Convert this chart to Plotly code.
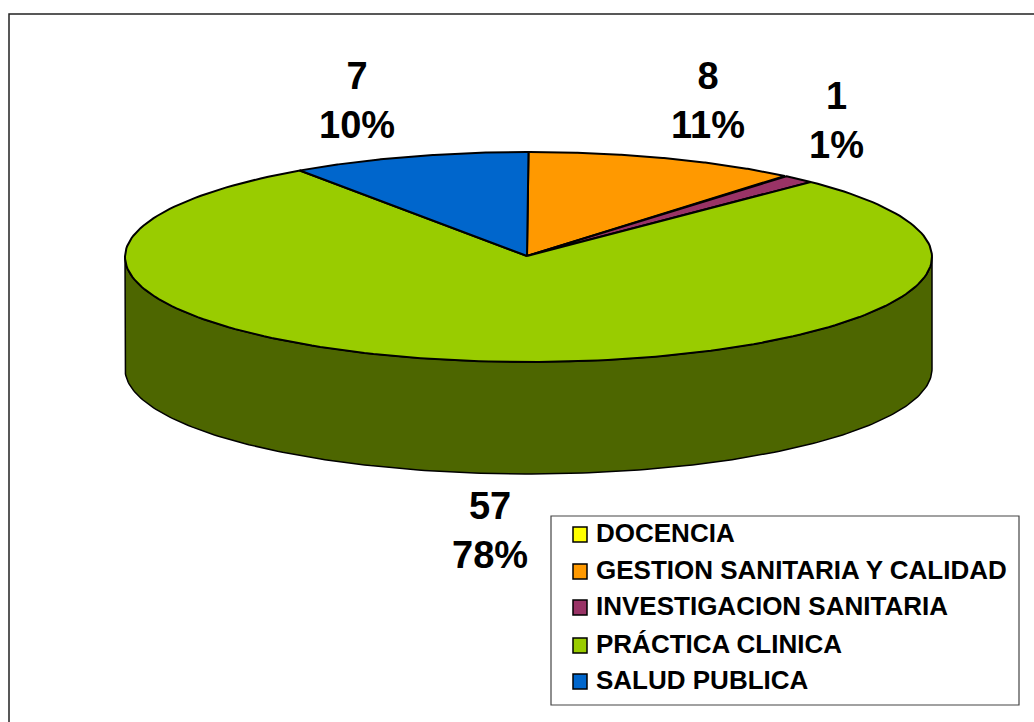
import numpy as np
import plotly.graph_objects as go

categories = ["DOCENCIA", "GESTION SANITARIA Y CALIDAD", "INVESTIGACION SANITARIA", "PRÁCTICA CLINICA", "SALUD PUBLICA"]
values = [0, 8, 1, 57, 7]
percent_labels = ["0%", "11%", "1%", "78%", "10%"]
top_colors = ["#FFFF00", "#FF9900", "#993366", "#99CC00", "#0066CC"]
side_colors = ["#808000", "#804D00", "#4D1A33", "#4D6600", "#003366"]

W, H = 1034, 722
CX, CY, RX, RY, DEPTH = 528.5, 257, 403.5, 105, 112
FONT = "Liberation Sans, Arial, sans-serif"

fig = go.Figure()


def ell(t):
    return CX + RX * np.sin(t), CY - RY * np.cos(t)


def add_poly(x, y, fill, width=2):
    fig.add_trace(go.Scatter(x=x, y=y, mode="lines", fill="toself", fillcolor=fill,
                             line=dict(color="#000000", width=width), hoverinfo="skip", showlegend=False))


total = sum(values)
edges = 2 * np.pi * np.concatenate([[0], np.cumsum(values)]) / total

# side wall: only the front half of the rim is visible
for i, v in enumerate(values):
    a, b = max(edges[i], np.pi / 2), min(edges[i + 1], 3 * np.pi / 2)
    if v and b > a:
        t = np.linspace(a, b, 200)
        x, y = ell(t)
        add_poly(np.r_[x, x[::-1], x[0]], np.r_[y, y[::-1] + DEPTH, y[0]], side_colors[i], 1.5)

# top face
for i, v in enumerate(values):
    if v:
        t = np.linspace(edges[i], edges[i + 1], 200)
        x, y = ell(t)
        add_poly(np.r_[CX - 1.5, x, CX - 1.5], np.r_[CY - 1, y, CY - 1], top_colors[i])

# data labels
label_pos = {1: (708, 100), 2: (836, 120), 3: (490, 530), 4: (356.5, 100)}
for i, (lx, ly) in label_pos.items():
    fig.add_annotation(x=lx, y=ly, text=f"<b>{values[i]}<br>{percent_labels[i]}</b>", showarrow=False,
                       font=dict(family=FONT, size=38, color="#000000"), align="center", xanchor="center", yanchor="middle")

# frame and legend box
shapes = [
    dict(type="rect", x0=9, y0=14, x1=1060, y1=760, line=dict(color="#222222", width=1.5), fillcolor="rgba(0,0,0,0)", layer="below"),
    dict(type="rect", x0=551, y0=516, x1=1019, y1=705, line=dict(color="#444444", width=1.2), fillcolor="#FFFFFF", layer="above"),
]
leg_y = [534, 571, 607, 645, 681]
for i, name in enumerate(categories):
    shapes.append(dict(type="rect", x0=573, x1=587, y0=leg_y[i] - 7, y1=leg_y[i] + 8,
                       fillcolor=top_colors[i], line=dict(color="#000000", width=1.5), layer="above"))
    fig.add_annotation(x=594, y=leg_y[i] - 1, text=f"<b>{name}</b>", showarrow=False, xanchor="left", yanchor="middle",
                       font=dict(family=FONT, size=26, color="#000000"))

fig.update_layout(
    width=W, height=H, margin=dict(l=0, r=0, t=0, b=0), paper_bgcolor="#FFFFFF", plot_bgcolor="#FFFFFF",
    shapes=shapes, showlegend=False,
    xaxis=dict(range=[0, W], visible=False, fixedrange=True),
    yaxis=dict(range=[H, 0], visible=False, fixedrange=True),
)
fig.write_html("out.html", config=dict(displayModeBar=False),
               post_script="document.body.style.margin='0';document.documentElement.style.overflow='hidden';")
